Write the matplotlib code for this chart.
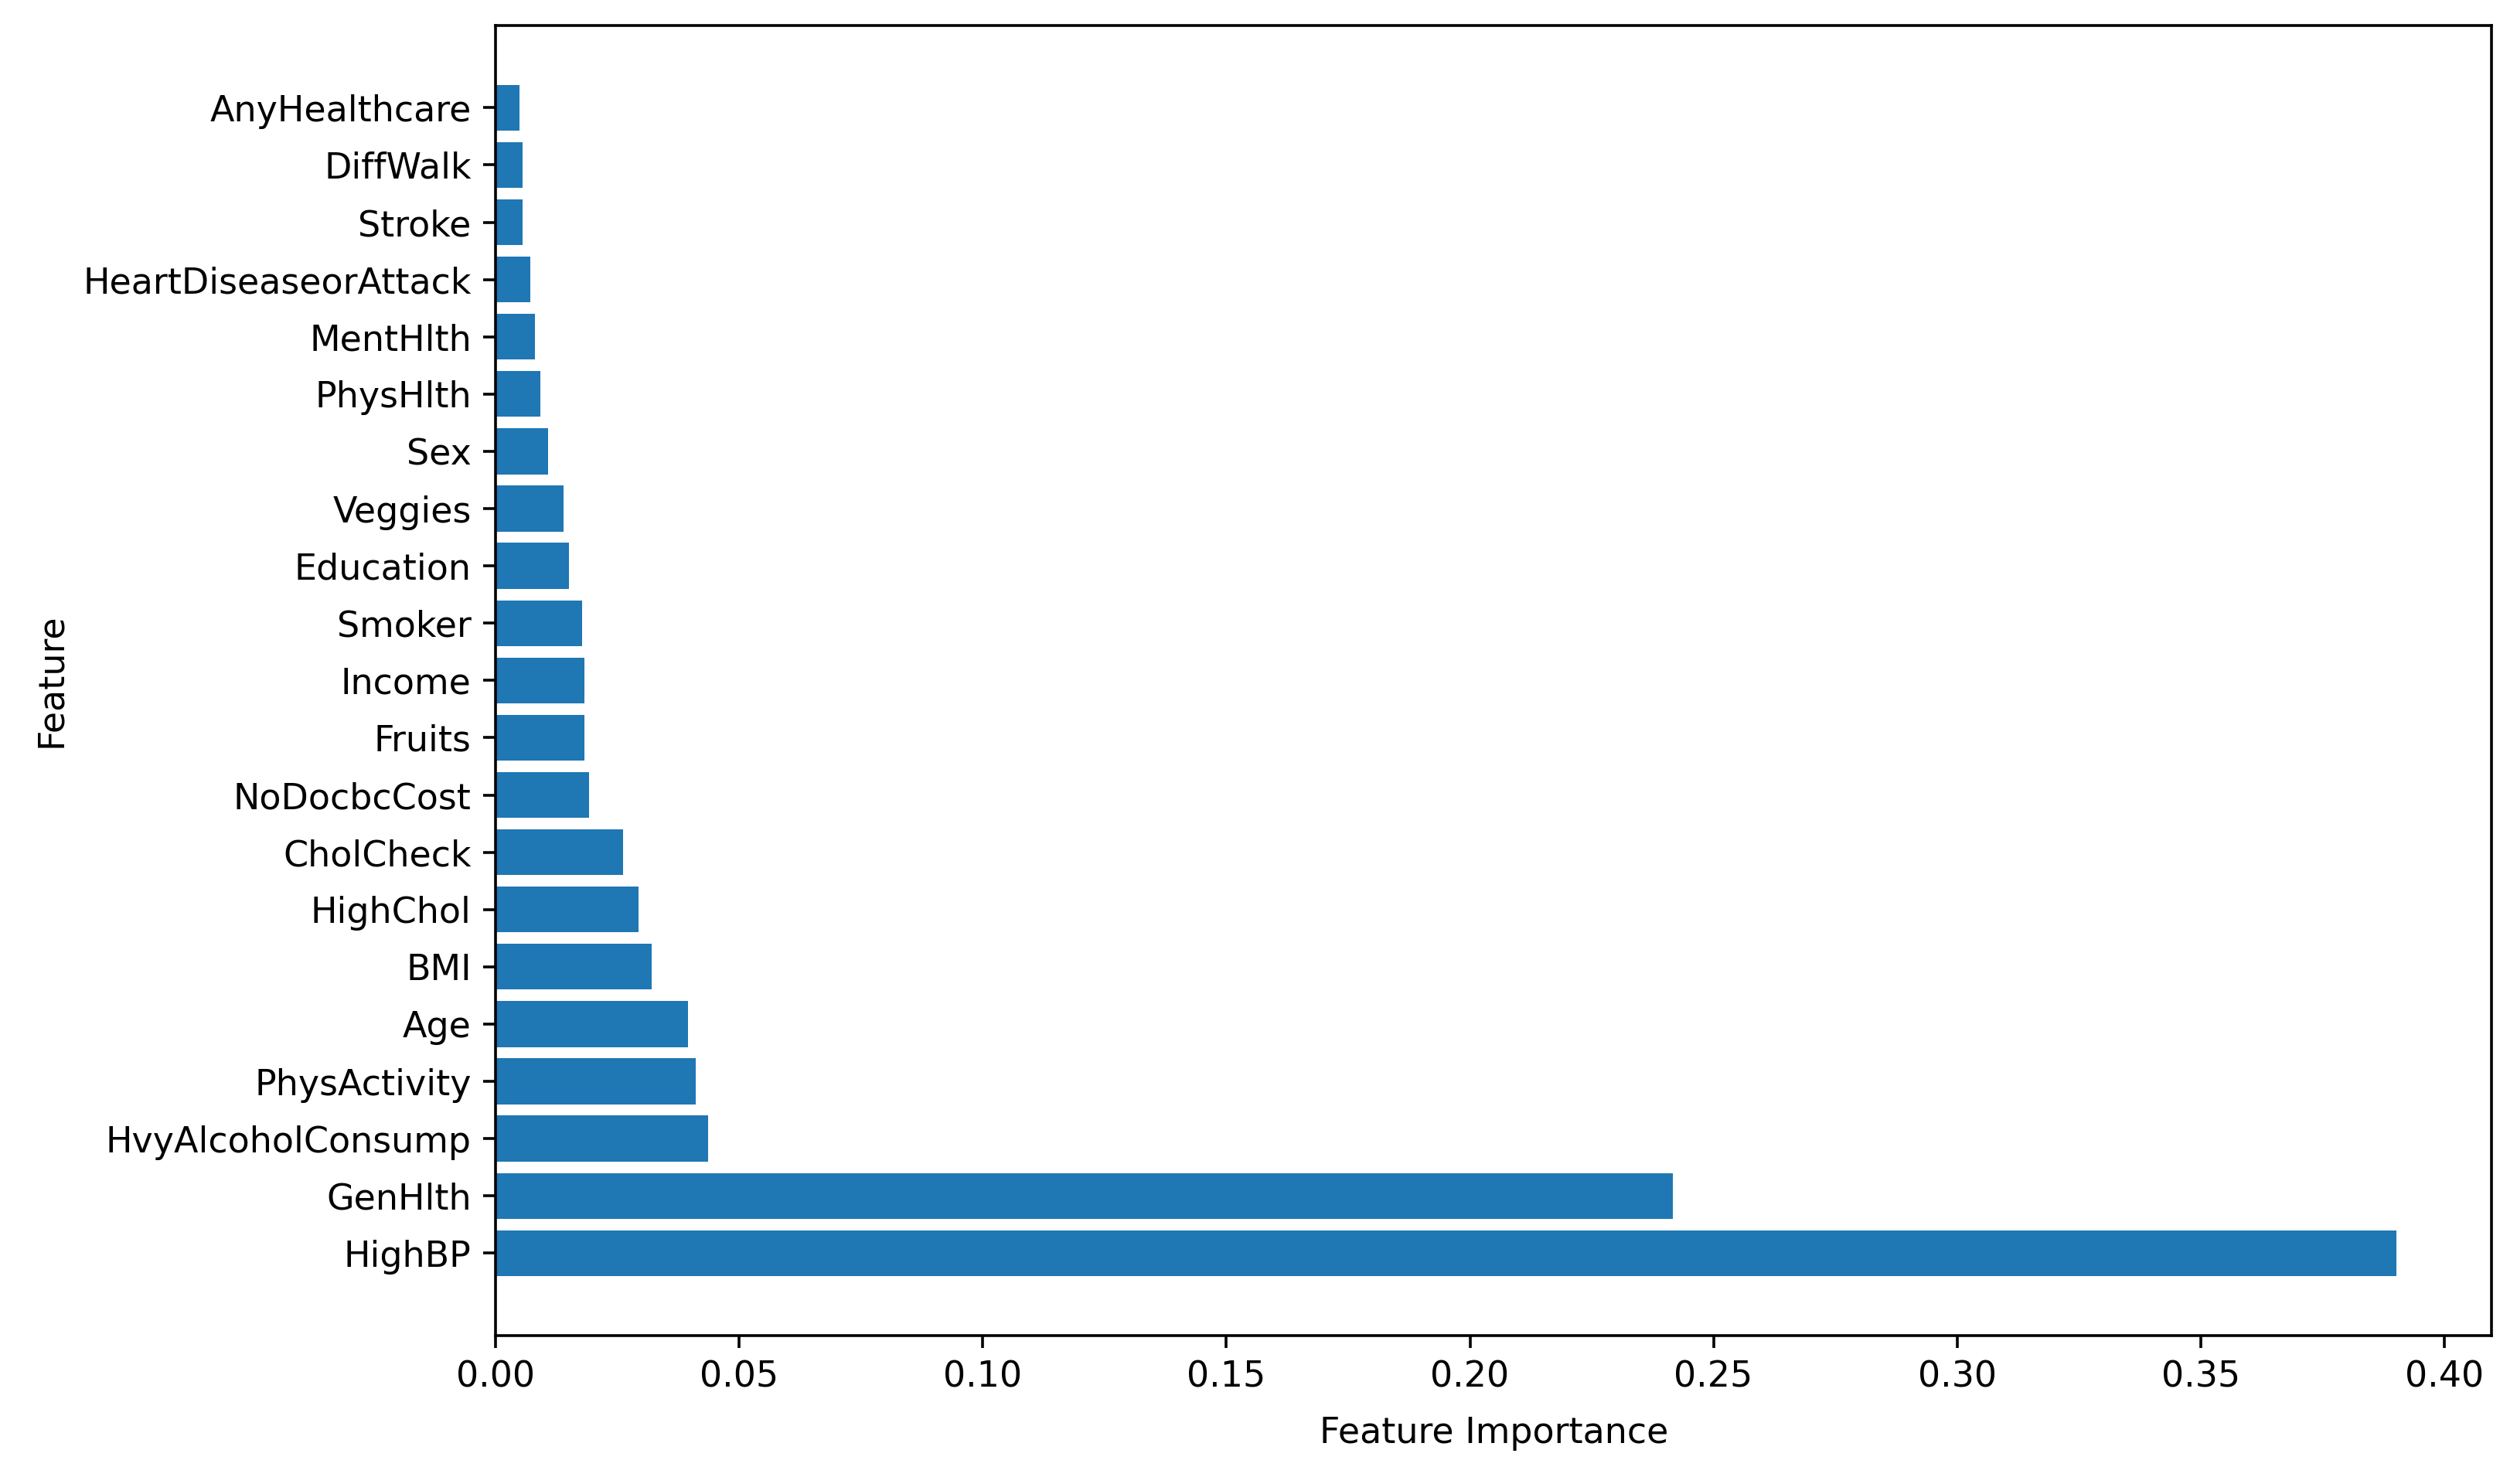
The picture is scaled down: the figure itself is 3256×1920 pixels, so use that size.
import numpy as np
import matplotlib.pyplot as plt

# features ordered from most to least important (barh draws first one at the bottom)
features = ['HighBP', 'GenHlth', 'HvyAlcoholConsump', 'PhysActivity', 'Age', 'BMI',
            'HighChol', 'CholCheck', 'NoDocbcCost', 'Fruits', 'Income', 'Smoker',
            'Education', 'Veggies', 'Sex', 'PhysHlth', 'MentHlth',
            'HeartDiseaseorAttack', 'Stroke', 'DiffWalk', 'AnyHealthcare']
importance = [0.3903, 0.2417, 0.0436, 0.0410, 0.0394, 0.0320,
              0.0293, 0.0261, 0.0192, 0.0182, 0.0182, 0.0177,
              0.0150, 0.0139, 0.0108, 0.0092, 0.0081,
              0.0071, 0.0055, 0.0055, 0.0049]

plt.rcParams['font.size'] = 10.2

# figure drawn at 10in wide, upscaled to 3256 px like the original screenshot
fig = plt.figure(figsize=(10, 1920 / 325.6), dpi=325.6)
ax = fig.add_axes([0.197, 0.100, 0.793, 0.883])

ax.barh(features, importance, color='#1f77b4')

ax.set_xlabel('Feature Importance', labelpad=6)
ax.set_ylabel('Feature')

fig.savefig('out.png', dpi=325.6)
